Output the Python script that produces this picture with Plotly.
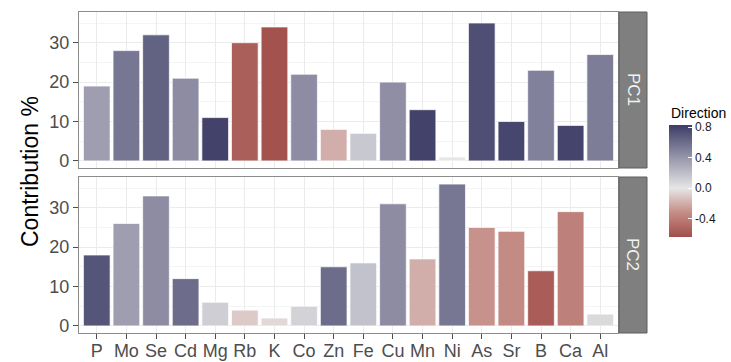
import plotly.graph_objects as go

elements = ["P", "Mo", "Se", "Cd", "Mg", "Rb", "K", "Co", "Zn", "Fe", "Cu", "Mn", "Ni", "As", "Sr", "B", "Ca", "Al"]
pc1_contrib = [19, 28, 32, 21, 11, 30, 34, 22, 8, 7, 20, 13, 1, 35, 10, 23, 9, 27]
pc2_contrib = [18, 26, 33, 12, 6, 4, 2, 5, 15, 16, 31, 17, 36, 25, 24, 14, 29, 3]
pc1_direction = [0.36, 0.55, 0.65, 0.45, 0.80, -0.55, -0.62, 0.45, -0.20, 0.15, 0.44, 0.80, 0.0, 0.74, 0.78, 0.50, 0.79, 0.52]
pc2_direction = [0.71, 0.36, 0.45, 0.60, 0.12, -0.10, -0.05, 0.10, 0.60, 0.18, 0.45, -0.20, 0.55, -0.30, -0.33, -0.56, -0.38, 0.06]
panel_labels = ["PC1", "PC2"]
legend_ticks = [0.8, 0.4, 0.0, -0.4]

W, H = 731, 362
cmin, cmax = -0.64, 0.83
midp = (0 - cmin) / (cmax - cmin)
colorscale = [
    [0.0, "#a14e49"],
    [midp * 0.5, "#c58c86"],
    [midp, "#e6e6e6"],
    [midp + (1 - midp) * 0.5, "#9493a9"],
    [1.0, "#3c3c66"],
]

FONT = "Liberation Sans, Arial, sans-serif"

fig = go.Figure()
fig.add_trace(go.Bar(x=elements, y=pc1_contrib, xaxis="x", yaxis="y",
                     marker=dict(color=pc1_direction, coloraxis="coloraxis",
                                 line=dict(color="rgba(255,255,255,0.7)", width=1)),
                     showlegend=False))
fig.add_trace(go.Bar(x=elements, y=pc2_contrib, xaxis="x2", yaxis="y2",
                     marker=dict(color=pc2_direction, coloraxis="coloraxis",
                                 line=dict(color="rgba(255,255,255,0.7)", width=1)),
                     showlegend=False))

xdom = [79 / W, 618 / W]
y1dom = [1 - 168 / H, 1 - 12 / H]
y2dom = [1 - 333 / H, 1 - 177 / H]

common_x = dict(domain=xdom, range=[-0.6, 17.6], showgrid=True, gridcolor="#ebebeb", gridwidth=1,
                showline=True, mirror=True, linecolor="#8c8c8c", linewidth=1.2, zeroline=False,
                automargin=False, tickfont=dict(family=FONT, size=18, color="#4d4d4d"),
                categoryorder="array", categoryarray=elements, type="category")
common_y = dict(range=[-1.8, 37.8], tickvals=[0, 10, 20, 30], showgrid=True, gridcolor="#ebebeb",
                gridwidth=1, showline=True, mirror=True, linecolor="#8c8c8c", linewidth=1.2,
                zeroline=False, ticks="outside", ticklen=5, tickcolor="#4d4d4d", tickwidth=1,
                automargin=False, tickfont=dict(family=FONT, size=18, color="#4d4d4d"),
                minor=dict(tickvals=[5, 15, 25, 35], showgrid=True, gridcolor="#f4f4f4", gridwidth=0.6, ticks=""))

fig.update_layout(
    width=W, height=H, margin=dict(l=0, r=0, t=0, b=0),
    paper_bgcolor="white", plot_bgcolor="white", bargap=0.1,
    xaxis=dict(common_x, anchor="y", showticklabels=False, ticks=""),
    xaxis2=dict(common_x, anchor="y2", ticks="outside", ticklen=5, tickcolor="#4d4d4d", tickwidth=1,
                ticklabelstandoff=-4),
    yaxis=dict(common_y, domain=y1dom, anchor="x"),
    yaxis2=dict(common_y, domain=y2dom, anchor="x2"),
    coloraxis=dict(cmin=cmin, cmax=cmax, colorscale=colorscale,
                   colorbar=dict(x=669 / W, xanchor="left", y=1 - 181 / H, yanchor="middle",
                                 lenmode="pixels", len=112, thicknessmode="pixels", thickness=23,
                                 outlinewidth=0, tickvals=legend_ticks,
                                 ticktext=[f"{v:.1f}" for v in legend_ticks],
                                 ticks="inside", ticklen=4, tickcolor="white", tickwidth=1,
                                 tickfont=dict(family=FONT, size=12, color="#1a1a1a"),
                                 ypad=0, xpad=0)),
)

strip_x0, strip_x1 = 619 / W, 647 / W
for lab, dom in zip(panel_labels, [y1dom, y2dom]):
    fig.add_shape(type="rect", xref="paper", yref="paper", x0=strip_x0, x1=strip_x1,
                  y0=dom[0], y1=dom[1], fillcolor="#7f7f7f", line=dict(color="#5e5e5e", width=1))
    fig.add_annotation(x=(strip_x0 + strip_x1) / 2, y=(dom[0] + dom[1]) / 2, xref="paper", yref="paper",
                       text=lab, textangle=90, showarrow=False, xanchor="center", yanchor="middle",
                       font=dict(family=FONT, size=17, color="#f2f2f2"))

fig.add_annotation(x=30 / W, y=1 - 172 / H, xref="paper", yref="paper", text="Contribution %",
                   textangle=-90, showarrow=False, xanchor="center", yanchor="middle",
                   font=dict(family=FONT, size=23, color="black"))
fig.add_annotation(x=669 / W, y=1 - 113 / H, xref="paper", yref="paper", text="Direction",
                   xanchor="left", yanchor="middle", showarrow=False,
                   font=dict(family=FONT, size=14, color="black"))

fig.write_html("out.html")
